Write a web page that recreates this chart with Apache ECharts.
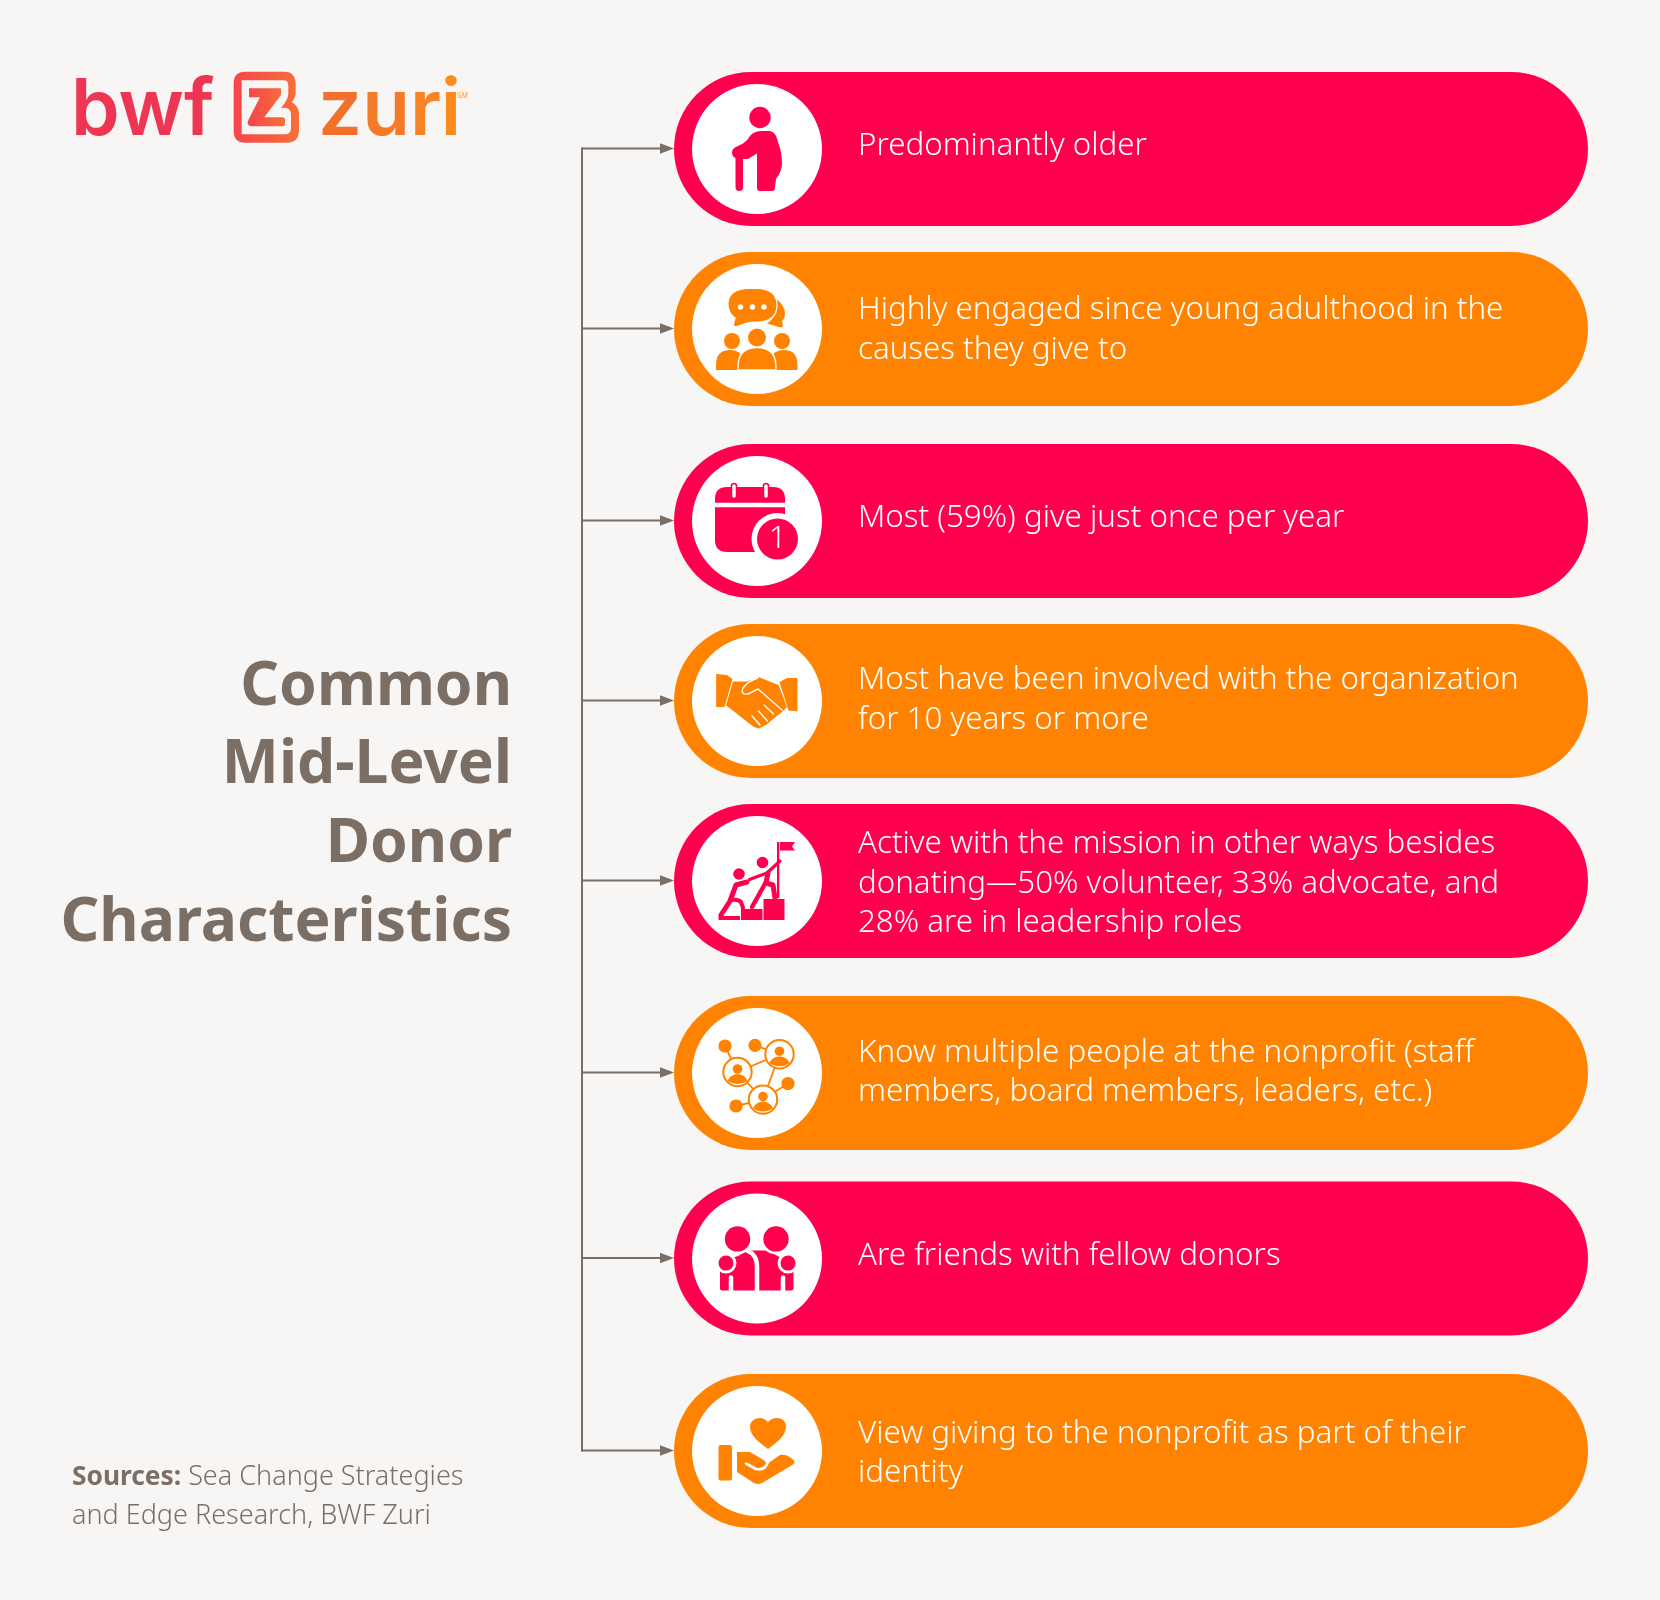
<!DOCTYPE html>
<html>
<head>
<meta charset="utf-8">
<title>Common Mid-Level Donor Characteristics</title>
<style>
  html, body { margin: 0; padding: 0; background: #f7f6f4; }
  #main { width: 1660px; height: 1600px; }
</style>
<script src="https://cdn.jsdelivr.net/npm/echarts@6/dist/echarts.min.js"></script>
</head>
<body>
<div id="main"></div>
<script>
// chart content
var titleLines = ['Common', 'Mid-Level', 'Donor', 'Characteristics'];
var sourceLabel = 'Sources:';
var sourceLines = ['Sea Change Strategies', 'and Edge Research, BWF Zuri'];
var characteristics = [
  'Predominantly older',
  'Highly engaged since young adulthood in the\ncauses they give to',
  'Most (59%) give just once per year',
  'Most have been involved with the organization\nfor 10 years or more',
  'Active with the mission in other ways besides\ndonating\u201450% volunteer, 33% advocate, and\n28% are in leadership roles',
  'Know multiple people at the nonprofit (staff\nmembers, board members, leaders, etc.)',
  'Are friends with fellow donors',
  'View giving to the nonprofit as part of their\nidentity'
];
var iconNames = ['elder', 'talk', 'calendar', 'handshake', 'climb', 'network', 'friends', 'give'];
var rowTones = ['pink', 'orange', 'pink', 'orange', 'pink', 'orange', 'pink', 'orange'];

// layout and styling, all in page pixels
var W = 1660, H = 1600;
var rowCenterY = [149, 329, 521, 701, 881, 1073, 1258.5, 1451];
var textCenterY = [146.5, 330, 518.5, 700, 884, 1072.5, 1256.5, 1453.5];
var PILL_L = 674, PILL_R = 1588, PILL_H = 154;
var CIRCLE_X = 757, CIRCLE_R = 65;
var TEXT_X = 858;
var TRUNK_X = 582;
var tones = { pink: '#ff004f', orange: '#ff8300' };
var GREY = '#7a6e65';
var WHITE = '#ffffff';
var BODY_FONT = '"Noto Sans", "Open Sans", sans-serif';

// small drawing helpers for the icons (coordinates are relative to the circle centre)
function path(d, fill, stroke, lw) {
  return { type: 'path', shape: { pathData: d }, style: { fill: fill || 'none', stroke: stroke || 'none', lineWidth: lw || 0, lineCap: 'round', lineJoin: 'round' } };
}
function dot(cx, cy, r, fill, stroke, lw) {
  return { type: 'circle', shape: { cx: cx, cy: cy, r: r }, style: { fill: fill, stroke: stroke || 'none', lineWidth: lw || 0 } };
}

var icons = {
  elder: function (c) {
    return [
      dot(3, -31.5, 10.7, c),
      path('M5 -18 L13 -18 Q19 -17 21.5 -5.5 Q25 4 25 14.5 Q25 22 19 30 L18 38 Q18 42 15 42 L3 42 Q0 42 0 39 L0 4.5 L-9 10 L-18 10 Q-25 9 -25 4 Q-25 0 -22 -1.5 L-14 -5.5 Q-9 -9 -7 -13 Q-3 -18 5 -18 Z', c),
      path('M-21.5 8 L-14 8 L-14 38 Q-14 42 -17.75 42 Q-21.5 42 -21.5 38 Z', c)
    ];
  },
  talk: function (c) {
    return [
      path('M20 -29.5 Q28 -23 28 -15.5 Q28 -11 25 -8 L26 -3 Q25 -1 22 -2 L17 -3.5 L10 -5.5 Q20 -12 20 -29.5 Z', c),
      path('M-8 -40.5 L0 -40.5 Q20 -40 20 -24 Q20 -7 0 -7 Q-6 -7 -10 -6 L-20 -2.5 Q-24 -2 -23.5 -5 L-22 -11 Q-29 -16 -29 -25 Q-29 -40 -8 -40.5 Z', c, WHITE, 1.2),
      dot(-16.5, -22, 2.7, WHITE), dot(-4.5, -22, 2.7, WHITE), dot(7, -22, 2.7, WHITE),
      dot(0, 8.5, 9, c), dot(-25, 12, 8, c), dot(25, 12, 8, c),
      path('M-41 41 L-41 36 Q-41 21 -27 21 Q-20 21 -15 26 L-15 41 Z', c),
      path('M40.5 41 L40.5 36 Q40.5 21 27 21 Q20 21 15 26 L15 41 Z', c),
      path('M-19 41 L-19 38 Q-19 18.5 0 18.5 Q19 18.5 19 38 L19 41 Z', c, WHITE, 1.4)
    ];
  },
  calendar: function (c) {
    return [
      path('M-30 -34 L16 -34 Q28 -34 28 -22 L28 19 Q28 31 16 31 L-30 31 Q-42 31 -42 19 L-42 -22 Q-42 -34 -30 -34 Z', c),
      path('M-42 -16 L28 -16', 'none', WHITE, 4.5),
      path('M-23 -35 L-23 -25', 'none', c, 6.5), path('M-23 -35 L-23 -25', 'none', WHITE, 3.5),
      path('M9 -35 L9 -25', 'none', c, 6.5), path('M9 -35 L9 -25', 'none', WHITE, 3.5),
      dot(20.5, 18, 26, WHITE),
      dot(20.5, 18, 20.5, c),
      { type: 'text', style: { text: '1', x: 20.5, y: 18, fill: WHITE, font: '300 31px ' + BODY_FONT, textAlign: 'center', textVerticalAlign: 'middle' } }
    ];
  },
  handshake: function (c) {
    return [
      path('M-40.8 -27 L-30 -26 L-24.5 -22 L-32.5 6 L-40.8 6 Z', c),
      path('M40.5 -23 L30 -23 L22.5 -19 L31.5 9.6 L40.5 10.3 Z', c),
      path('M-24 -19.6 L-10 -19.6 L1.5 -24 L21.5 -16 L30 6 L25 11 L18.5 16 L9 24 L1.5 27.5 L-3.5 25.7 L-31 4.3 Z', c),
      path('M1 -23 Q-9 -20 -14 -13 Q-17 -6 -9 -7 L1 -12 L25 9', 'none', WHITE, 1.4),
      path('M7 4 L16.5 13', 'none', WHITE, 1.4),
      path('M1.5 10 L10.5 20', 'none', WHITE, 1.4),
      path('M-5 15 L3 24', 'none', WHITE, 1.4)
    ];
  },
  climb: function (c) {
    return [
      path('M20 -39 L22.3 -39 L22.3 17 L20 17 Z', c),
      path('M23 -39 L38 -39 L35 -34.6 L38 -30.4 L23 -30.4 Z', c),
      path('M6.5 18 L27.5 18 L27.5 39 L6.5 39 Z', c),
      path('M-16 28 L5.5 28 L5.5 39 L-16 39 Z', c),
      path('M-38.5 35 L-17 35 L-17 39 L-38.5 39 Z', c),
      dot(5.5, -18.5, 5.8, c),
      dot(-18, -7, 5.8, c),
      path('M23 -20 L10 -8 L-7.5 -1.5', 'none', c, 3.2),
      path('M11 -8 L9 2 L16 4 L18 17', 'none', c, 5),
      path('M9 1 L-5 26', 'none', c, 4.5),
      path('M-10 1 L-21 4 L-27 20 L-36 34', 'none', c, 5),
      path('M-25 19 Q-19 18 -16 21 L-14 27', 'none', c, 4)
    ];
  },
  network: function (c) {
    var rings = [[-19.5, -1], [22.5, -18.8], [6, 26.6]];
    var small = [[-32, -27], [-2, -27.7], [31, 10.5], [-21, 33]];
    var list = [
      path('M-19.5 -1 L22.5 -18.8 L6 26.6 Z M-19.5 -1 L-32 -27 M22.5 -18.8 L-2 -27.7 M6 26.6 L31 10.5 M6 26.6 L-21 33', 'none', c, 1.8)
    ];
    small.forEach(function (s) { list.push(dot(s[0], s[1], 6.6, c)); });
    rings.forEach(function (r) {
      list.push(dot(r[0], r[1], 14.2, WHITE, c, 2));
      list.push(dot(r[0], r[1] - 3, 4.8, c));
      list.push(path('M' + (r[0] - 10) + ' ' + (r[1] + 9) + ' Q' + (r[0] - 8) + ' ' + (r[1] + 3) + ' ' + r[0] + ' ' + (r[1] + 2) + ' Q' + (r[0] + 8) + ' ' + (r[1] + 3) + ' ' + (r[0] + 10) + ' ' + (r[1] + 9) + ' Q' + r[0] + ' ' + (r[1] + 15) + ' ' + (r[0] - 10) + ' ' + (r[1] + 9) + ' Z', c));
    });
    return list;
  },
  friends: function (c) {
    return [
      path('M-12 -8 L14 -8 Q20 -1 26 -1 L26 13 L36.5 13 L36.5 30 Q36.5 32 34 32 L-34 32 Q-37 32 -37 30 L-37 13 L-26 13 L-26 -1 Q-18 -1 -12 -8 Z', c),
      dot(-19.5, -19.6, 15.5, WHITE), dot(19, -19.6, 15.5, WHITE),
      dot(-19.5, -19.6, 12.7, c), dot(19, -19.6, 12.7, c),
      path('M-10 -8 Q0 -4 0 8 L0 33', 'none', WHITE, 4.5),
      path('M-26 19 L-26 33', 'none', WHITE, 4.5),
      path('M26 19 L26 33', 'none', WHITE, 4.5),
      dot(-31, 4.6, 10.5, WHITE), dot(31, 4.6, 10.5, WHITE),
      dot(-31, 4.6, 7.5, c), dot(31, 4.6, 7.5, c)
    ];
  },
  give: function (c) {
    return [
      path('M11 -2 C3 -8 -7 -15 -7 -24 C-7 -30 -2 -33 3 -33 C6 -33 9 -31 11 -29 C13 -31 16 -33 20 -33 C25 -33 29 -30 29 -24 C29 -15 19 -8 11 -2 Z', c),
      path('M-36.5 -6 L-27 -6 Q-25 -6 -25 -4 L-25 27.6 Q-25 29.6 -27 29.6 L-36.5 29.6 Q-38.5 29.6 -38.5 27.6 L-38.5 -4 Q-38.5 -6 -36.5 -6 Z', c),
      path('M-20 1 L-7 1 L5 8 Q9 10 10 13 L23 4 Q30 3 36.5 9 Q38 11 37 13 L5 32 Q1 34 -3 32 L-20 21 Z', c),
      path('M-11 12.5 L-1 18 Q8 20 11 11', 'none', WHITE, 2.6)
    ];
  }
};

// one row of the chart: arrow from the trunk, pill, white circle, icon, text
function renderRow(params, api) {
  var i = api.value(0);
  var rowY = rowCenterY[i];
  var fill = tones[rowTones[i]];
  var start = api.coord([TRUNK_X, rowY - 0.5]);
  var tip = api.coord([PILL_L, rowY - 0.5]);
  var pillTL = api.coord([PILL_L, rowY - PILL_H / 2]);
  var pillBR = api.coord([PILL_R, rowY + PILL_H / 2]);
  var circle = api.coord([CIRCLE_X, rowY]);
  var label = api.coord([TEXT_X, textCenterY[i]]);
  return {
    type: 'group',
    children: [
      { type: 'line', shape: { x1: start[0], y1: start[1], x2: tip[0] - 10, y2: tip[1] }, style: { stroke: GREY, lineWidth: 2 } },
      { type: 'polygon', shape: { points: [[tip[0], tip[1]], [tip[0] - 14, tip[1] - 5.3], [tip[0] - 14, tip[1] + 5.3]] }, style: { fill: GREY } },
      { type: 'rect', shape: { x: pillTL[0], y: pillTL[1], width: pillBR[0] - pillTL[0], height: pillBR[1] - pillTL[1], r: PILL_H / 2 }, style: { fill: fill } },
      { type: 'circle', shape: { cx: circle[0], cy: circle[1], r: CIRCLE_R }, style: { fill: WHITE } },
      { type: 'group', x: circle[0], y: circle[1], children: icons[iconNames[i]](fill) },
      { type: 'text', x: label[0], y: label[1], style: { text: characteristics[i], fill: WHITE, font: '300 31.3px ' + BODY_FONT, lineHeight: 39.5, textAlign: 'left', textVerticalAlign: 'middle' } }
    ]
  };
}

// the Z mark of the logo, drawn in a 3x local box
var logoGradient = new echarts.graphic.LinearGradient(0, 0, 1, 0, [
  { offset: 0, color: '#f6454c' },
  { offset: 1, color: '#f76f38' }
]);
function renderLogoMark(params, api) {
  var at = api.coord([225, 65]);
  return {
    type: 'group', x: at[0], y: at[1], scaleX: 1 / 3, scaleY: 1 / 3,
    children: [
      { type: 'path', shape: { pathData: 'M60 20 L178 20 Q212 20 212 58 L212 82 Q212 98 200 112 Q222 122 222 150 L222 195 Q222 233 185 233 L60 233 Q26 233 26 198 L26 55 Q26 20 60 20 Z' }, style: { fill: logoGradient } },
      { type: 'path', shape: { pathData: 'M50 46 L176 46 Q190 46 190 62 L190 85 Q190 105 168 128 L178 128 Q198 128 198 150 L198 190 Q198 208 180 208 L50 208 Z' }, style: { fill: '#f7f6f4' } },
      { type: 'path', shape: { pathData: 'M72 70 L168 70 L168 90 L118 157 L172 157 Q180 157 180 165 L180 176 Q180 184 172 184 L85 184 Q62 184 70 165 L105 97 L72 97 Z' }, style: { fill: logoGradient } }
    ]
  };
}

var LOGO_FONT = '600 78px Inter, sans-serif';
var chart = echarts.init(document.getElementById('main'));
chart.setOption({
  backgroundColor: '#f7f6f4',
  animation: false,
  grid: { left: 0, right: 0, top: 0, bottom: 0 },
  xAxis: { type: 'value', min: 0, max: W, show: false },
  yAxis: { type: 'value', min: 0, max: H, inverse: true, show: false },
  graphic: [
    // trunk of the connector
    { type: 'line', shape: { x1: TRUNK_X, y1: rowCenterY[0] - 1.5, x2: TRUNK_X, y2: rowCenterY[7] + 0.5 }, style: { stroke: GREY, lineWidth: 2 } },
    // logo
    { type: 'text', x: 71, y: 151, style: { text: 'bwf', fill: '#ef3554', font: LOGO_FONT, textVerticalAlign: 'bottom' } },
    { type: 'text', x: 318, y: 151, style: { text: '{a|z}{b|u}{c|r}{d|i}', font: LOGO_FONT, textVerticalAlign: 'bottom',
      rich: { a: { fill: '#f3702b', font: LOGO_FONT }, b: { fill: '#f57a28', font: LOGO_FONT }, c: { fill: '#f88324', font: LOGO_FONT }, d: { fill: '#fb8a1f', font: LOGO_FONT } } } },
    { type: 'text', x: 457, y: 96, style: { text: 'SM', fill: '#fb9a4a', font: '7px Inter, sans-serif', textVerticalAlign: 'middle' } },
    // title
    { type: 'text', x: 512, y: 648, style: { text: titleLines.join('\n'), fill: GREY, font: 'bold 60.5px ' + BODY_FONT, lineHeight: 78.7, textAlign: 'right', textVerticalAlign: 'top' } },
    // sources
    { type: 'text', x: 72, y: 1458, style: { text: '{b|' + sourceLabel + '} ' + sourceLines[0] + '\n' + sourceLines[1], fill: GREY, font: '300 27px ' + BODY_FONT, lineHeight: 39, rich: { b: { fontFamily: 'Noto Sans', fontWeight: 'bold', fontSize: 26.3, fill: GREY, lineHeight: 39 } } } }
  ],
  series: [{
    type: 'custom',
    coordinateSystem: 'cartesian2d',
    clip: false,
    silent: true,
    renderItem: renderRow,
    encode: { x: 0, y: 0 },
    data: characteristics.map(function (t, i) { return [i]; })
  }, {
    type: 'custom',
    coordinateSystem: 'cartesian2d',
    clip: false,
    silent: true,
    renderItem: renderLogoMark,
    encode: { x: 0, y: 0 },
    data: [[0]]
  }]
});
</script>
</body>
</html>
